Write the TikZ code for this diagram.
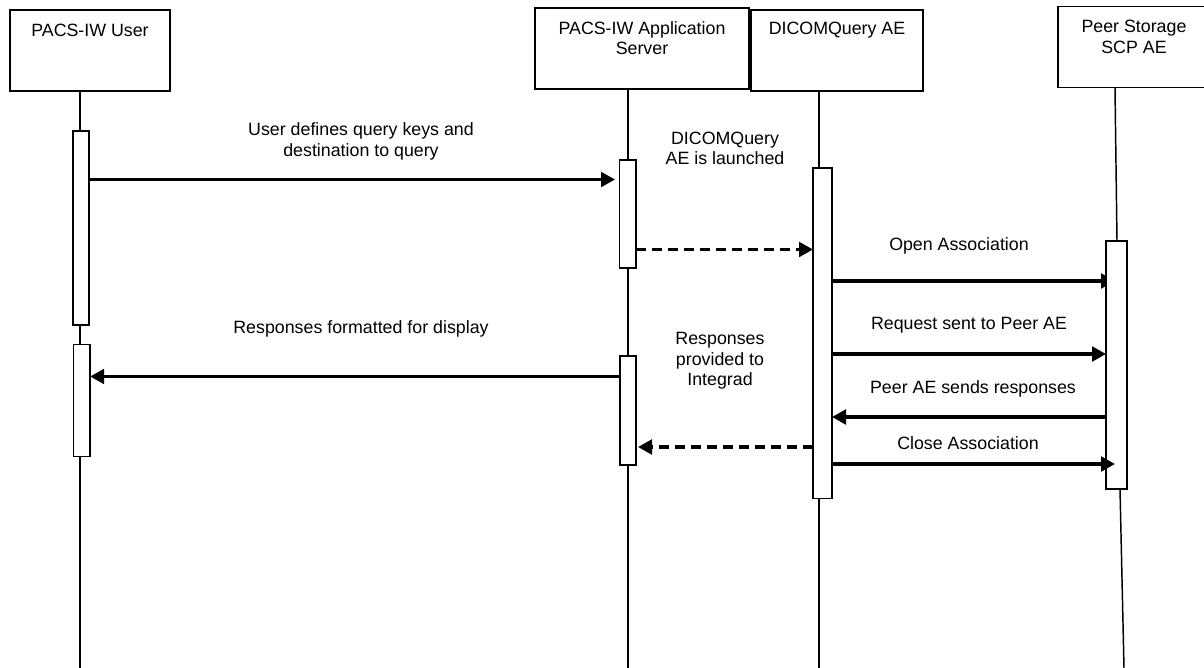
\documentclass[tikz,border=0pt]{standalone}
\usepackage{fontspec}
\setmainfont{Liberation Sans}
\usetikzlibrary{arrows.meta}
\tikzset{
  x=0.75pt,y=-0.75pt,
  inner sep=0pt,outer sep=0pt,
  box/.style={draw=black,fill=white,line width=1.15pt,anchor=north west},
  act/.style={draw=black,fill=white,line width=1.15pt,anchor=north west},
  life/.style={draw=black,line width=1.1pt},
  msg/.style={draw=black,line width=2.4pt,-{Triangle[length=10.5pt,width=11pt]}},
  dmsg/.style={msg,dash pattern=on 7.5pt off 4.5pt},
  lab/.style={font=\fontsize{13.35pt}{15.5pt}\selectfont,align=center,text=black},
}
\begin{document}
\begin{tikzpicture}
\useasboundingbox (0,0) rectangle (1204,668);
\fill[white] (0,0) rectangle (1204,668);
% heads
\node[box,minimum width=120pt,minimum height=60.75pt] (hu) at (10,10) {};
\node[box,minimum width=160.5pt,minimum height=60.75pt] (ha) at (535,8) {};
\node[box,minimum width=129pt,minimum height=60.75pt] (hd) at (751,10) {};
\node[box,minimum width=120pt,minimum height=60.75pt] (hp) at (1058,6.5) {};
% lifeline ends
\coordinate (ub) at (80,668);
\coordinate (ab) at (628,668);
\coordinate (db) at (819,668);
\coordinate (pb) at (1124,668);
\coordinate (ut) at (80,91);
\coordinate (at) at (628,90);
\coordinate (dt) at (819,91);
\coordinate (pt) at (1115,88);
% lifelines
\draw[life] (ut) -- (ub);
\draw[life] (at) -- (ab);
\draw[life] (dt) -- (db);
\coordinate (pm1) at (1117,241);
\coordinate (pm2) at (1120,489);
\draw[life] (pt) -- (pm1) (pm2) -- (pb);
% levels
\coordinate (y1) at (0,179.5);
\coordinate (y2) at (0,249.5);
\coordinate (y3) at (0,281);
\coordinate (y4) at (0,354);
\coordinate (y5) at (0,417);
\coordinate (y6) at (0,447);
\coordinate (y7) at (0,464);
\coordinate (y8) at (0,376.5);
\coordinate (openend) at (1115,281);
% activations
\node[act,minimum width=12pt,minimum height=145.5pt] (u1) at (73,131) {};
\node[act,minimum width=12.5pt,minimum height=84pt] (u2) at (73.5,344.5) {};
\node[act,minimum width=12.5pt,minimum height=81pt] (a1) at (619.5,160) {};
\node[act,minimum width=12pt,minimum height=81.75pt] (a2) at (620,356) {};
\node[act,minimum width=14.25pt,minimum height=248pt] (d1) at (813,168) {};
% open association passes behind the peer bar
\draw[msg] (d1.east |- y3) -- (openend);
\node[act,minimum width=15.75pt,minimum height=186pt] (p1) at (1106,241) {};
% messages
\coordinate (a1tip) at (615,179.5);
\coordinate (closeend) at (1115,464);
\coordinate (a2tip) at (638,447);
\draw[msg] (u1.east |- y1) -- (a1tip);
\draw[dmsg] (a1.east |- y2) -- (d1.west |- y2);
\draw[msg] (d1.east |- y4) -- (p1.west |- y4);
\draw[msg] (p1.west |- y5) -- (d1.east |- y5);
\draw[dmsg] (d1.west |- y6) -- (a2tip);
\draw[msg] (d1.east |- y7) -- (closeend);
\draw[msg] (a2.west |- y8) -- (u2.east |- y8);
% head texts
\node[lab] (tu) at (90,30) {PACS-IW User};
\node[lab] (ta) at (642,38) {PACS-IW Application\\Server};
\node[lab] (td) at (837,30) {DICOMQuery AE};
\node[lab] (tp) at (1134,37) {Peer Storage\\SCP AE};
% message texts
\node[lab] (m1) at (361,141.5) {User defines query keys and\\destination to query};
\node[lab] (m2) at (725,148.5) {DICOMQuery\\AE is launched};
\node[lab] (m3) at (959,245.5) {Open Association};
\node[lab] (m4) at (969,325.5) {Request sent to Peer AE};
\node[lab] (m5) at (973,388.5) {Peer AE sends responses};
\node[lab] (m6) at (968,443.5) {Close Association};
\node[lab] (m7) at (361,328.5) {Responses formatted for display};
\node[lab] (m8) at (720,361) {Responses\\provided to\\Integrad};
\end{tikzpicture}
\end{document}
